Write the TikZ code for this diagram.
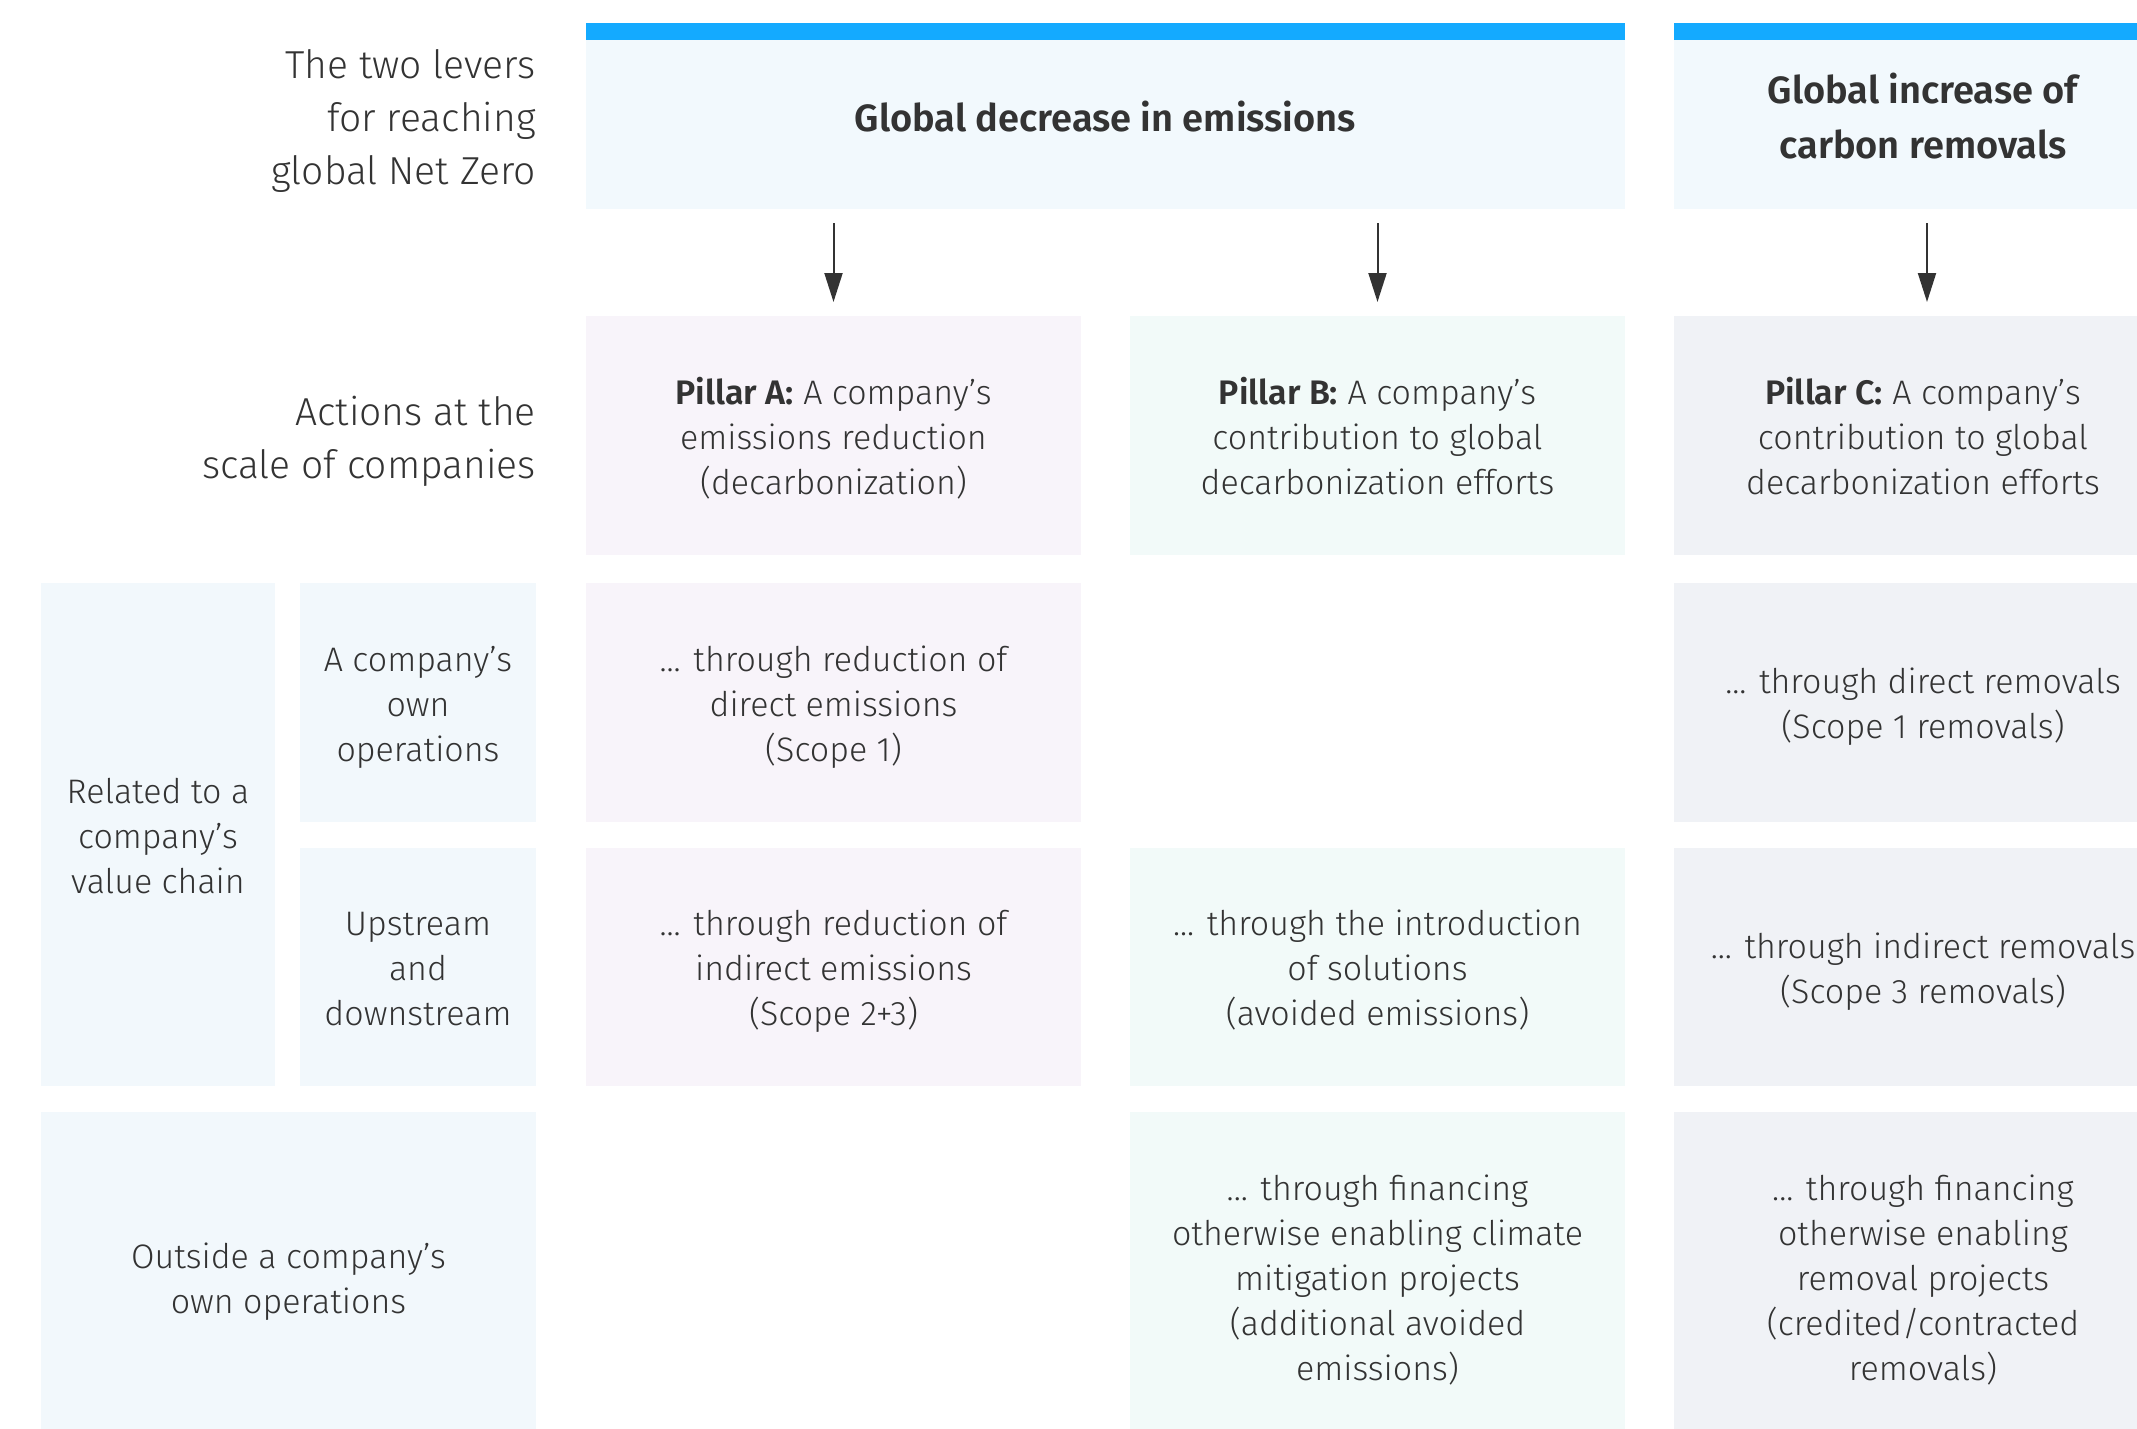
\documentclass[tikz,border=0pt]{standalone}
\usepackage{fontspec}
\IfFontExistsTF{Fira Sans Book}
  {\setmainfont{Fira Sans}[UprightFont=* Book, BoldFont=* SemiBold]}
  {\setmainfont{Fira Sans}[UprightFont=* Light, BoldFont=* SemiBold]}
\usetikzlibrary{arrows.meta}
\definecolor{txt}{HTML}{333333}
\definecolor{barblue}{HTML}{14AAFF}
\definecolor{headfill}{HTML}{F2F9FD}
\definecolor{leftfill}{HTML}{F2F8FC}
\definecolor{afill}{HTML}{F8F4FA}
\definecolor{bfill}{HTML}{F2FAF9}
\definecolor{cfill}{HTML}{F0F2F6}
\tikzset{
  cell/.style={anchor=north west, inner sep=0pt, outer sep=0pt, draw=none},
  headcell/.style={cell, fill=headfill},
  leftcell/.style={cell, fill=leftfill},
  acell/.style={cell, fill=afill},
  bcell/.style={cell, fill=bfill},
  ccell/.style={cell, fill=cfill},
  celltext/.style={inner sep=0pt, align=center, text=txt,
    font=\fontsize{34}{45}\selectfont, yshift=-4.5pt},
  headtext/.style={inner sep=0pt, align=center, text=txt,
    font=\fontsize{38}{55}\selectfont\bfseries, yshift=8pt},
  biglabel/.style={anchor=east, inner sep=0pt, align=right, text=txt,
    font=\fontsize{39}{53}\selectfont},
  arr/.style={draw=txt, line width=2pt, -{Triangle[length=29pt,width=18pt]}},
  bar/.style={fill=barblue, draw=none}
}
\begin{document}
\begin{tikzpicture}[x=1pt,y=-1pt]
\useasboundingbox (0,0) rectangle (2137,1429);
% header row
\fill[bar] (586,23) rectangle (1625,40);
\fill[bar] (1674,23) rectangle (2180,40);
\node[headcell, minimum width=1039pt, minimum height=169pt] (hA) at (586,40) {};
\node[headcell, minimum width=498pt, minimum height=169pt] (hC) at (1674,40) {};
\node[headtext] (hAt) at (hA.center) {Global decrease in emissions};
\node[headtext] (hCt) at (hC.center) {Global increase of\\carbon removals};
\node[biglabel] (lev) at (536,121) {The two levers\\for reaching\\global Net Zero};
% pillar row
\node[acell, minimum width=495pt, minimum height=239pt] (pA) at (586,316) {};
\node[bcell, minimum width=495pt, minimum height=239pt] (pB) at (1130,316) {};
\node[ccell, minimum width=498pt, minimum height=239pt] (pC) at (1674,316) {};
\node[celltext] (pAt) at (pA.center) {\strut\textbf{Pillar A:} A company’s\\emissions reduction\\(decarbonization)\strut};
\node[celltext] (pBt) at (pB.center) {\strut\textbf{Pillar B:} A company’s\\contribution to global\\decarbonization efforts\strut};
\node[celltext] (pCt) at (pC.center) {\strut\textbf{Pillar C:} A company’s\\contribution to global\\decarbonization efforts\strut};
\node[biglabel] (act) at (536,441) {Actions at the\\scale of companies};
% arrows
\draw[arr] ([yshift=-14pt]pA.north |- hA.south) -- ([yshift=14pt]pA.north);
\draw[arr] ([yshift=-14pt]pB.north |- hA.south) -- ([yshift=14pt]pB.north);
\draw[arr] ([xshift=4pt,yshift=-14pt]pC.north |- hC.south) -- ([xshift=4pt,yshift=14pt]pC.north);
% left labels
\node[leftcell, minimum width=234pt, minimum height=503pt] (vc) at (41,583) {};
\node[leftcell, minimum width=236pt, minimum height=239pt] (own) at (300,583) {};
\node[leftcell, minimum width=236pt, minimum height=238pt] (ud) at (300,848) {};
\node[leftcell, minimum width=495pt, minimum height=330pt] (out) at (41,1112) {};
\node[celltext] (vct) at (vc.center) {\strut Related to a\\company’s\\value chain\strut};
\node[celltext] (ownt) at (own.center) {\strut A company’s\\own\\operations\strut};
\node[celltext] (udt) at (ud.center) {\strut Upstream\\and\\downstream\strut};
\node[celltext] (outt) at (out.center) {\strut Outside a company’s\\own operations\strut};
% row 1
\node[acell, minimum width=495pt, minimum height=239pt] (a1) at (586,583) {};
\node[ccell, minimum width=498pt, minimum height=239pt] (c1) at (1674,583) {};
\node[celltext] (a1t) at (a1.center) {\strut ... through reduction of\\direct emissions\\(Scope 1)\strut};
\node[celltext] (c1t) at (c1.center) {\strut ... through direct removals\\(Scope 1 removals)\strut};
% row 2
\node[acell, minimum width=495pt, minimum height=238pt] (a2) at (586,848) {};
\node[bcell, minimum width=495pt, minimum height=238pt] (b2) at (1130,848) {};
\node[ccell, minimum width=498pt, minimum height=238pt] (c2) at (1674,848) {};
\node[celltext] (a2t) at (a2.center) {\strut ... through reduction of\\indirect emissions\\(Scope 2+3)\strut};
\node[celltext] (b2t) at (b2.center) {\strut ... through the introduction\\of solutions\\(avoided emissions)\strut};
\node[celltext] (c2t) at (c2.center) {\strut ... through indirect removals\\(Scope 3 removals)\strut};
% row 3
\node[bcell, minimum width=495pt, minimum height=330pt] (b3) at (1130,1112) {};
\node[ccell, minimum width=498pt, minimum height=330pt] (c3) at (1674,1112) {};
\node[celltext] (b3t) at (b3.center) {\strut ... through financing\\otherwise enabling climate\\mitigation projects\\(additional avoided\\emissions)\strut};
\node[celltext] (c3t) at (c3.center) {\strut ... through financing\\otherwise enabling\\removal projects\\(credited/contracted\\removals)\strut};
\end{tikzpicture}
\end{document}
